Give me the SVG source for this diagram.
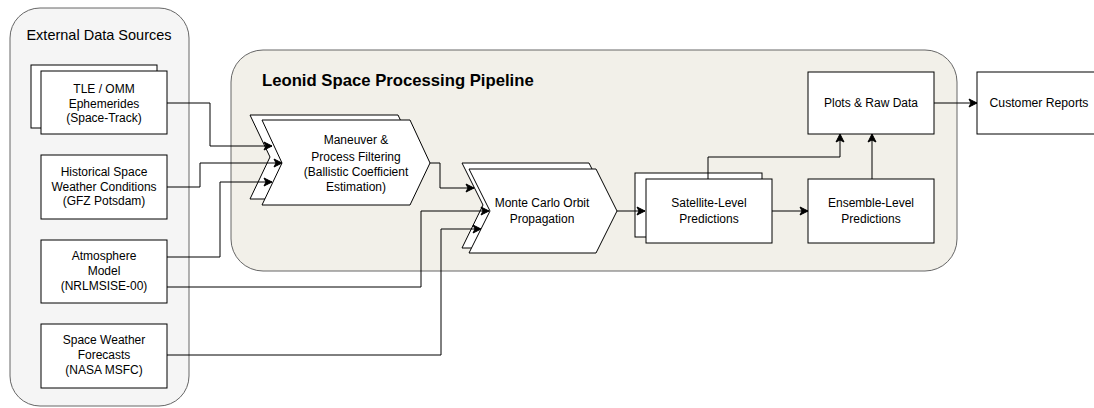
<svg xmlns="http://www.w3.org/2000/svg" width="1094" height="408" viewBox="0 0 1094 408">
<defs>
<style>
.node{fill:#fff;stroke:#000;stroke-width:1}
.t{font-family:"Liberation Sans",Arial,sans-serif;font-size:12px;fill:#000;text-anchor:middle}
.edge{fill:none;stroke:#000;stroke-width:1}
</style>
<marker id="arr" markerUnits="userSpaceOnUse" markerWidth="10" markerHeight="10" viewBox="0 0 10 10" refX="9" refY="5" orient="auto">
<path d="M1,1 L9,5 L1,9 L3,5 Z" fill="#000" stroke="#000" stroke-width="1"/>
</marker>
</defs>
<rect width="1094" height="408" fill="#fff"/>

<g id="external-container">
<rect x="10" y="8" width="179" height="398" rx="30" ry="30" fill="#f5f5f5" stroke="#666" stroke-width="1"/>
<text x="99" y="40" font-family="'Liberation Sans',Arial,sans-serif" font-size="14.5" text-anchor="middle" fill="#000">External Data Sources</text>
</g>

<g id="pipeline-container">
<rect x="231" y="50" width="726" height="221" rx="32" ry="32" fill="#f2f0e9" stroke="#666" stroke-width="1"/>
<text x="262" y="86" font-family="'Liberation Sans',Arial,sans-serif" font-size="16.7" font-weight="bold" fill="#000">Leonid Space Processing Pipeline</text>
</g>

<g id="tle">
<rect class="node" x="31" y="65" width="126" height="63"/>
<rect class="node" x="41" y="71" width="126" height="63"/>
<text class="t" x="104" y="93">TLE / OMM</text>
<text class="t" x="104" y="108">Ephemerides</text>
<text class="t" x="104" y="122">(Space-Track)</text>
</g>

<g id="historical">
<rect class="node" x="41" y="155" width="126" height="64"/>
<text class="t" x="104" y="176">Historical Space</text>
<text class="t" x="104" y="191">Weather Conditions</text>
<text class="t" x="104" y="205">(GFZ Potsdam)</text>
</g>

<g id="atmosphere">
<rect class="node" x="41" y="240" width="126" height="63"/>
<text class="t" x="104" y="260">Atmosphere</text>
<text class="t" x="104" y="275">Model</text>
<text class="t" x="104" y="290">(NRLMSISE-00)</text>
</g>

<g id="forecasts">
<rect class="node" x="41" y="324" width="126" height="64"/>
<text class="t" x="104" y="344">Space Weather</text>
<text class="t" x="104" y="359">Forecasts</text>
<text class="t" x="104" y="374">(NASA MSFC)</text>
</g>

<g id="maneuver">
<path class="node" d="M250,115 L398,115 L418,157 L398,199 L250,199 L270,157 Z"/>
<path class="node" d="M262,120 L410,120 L430,163 L410,205 L262,205 L282,163 Z"/>
<text class="t" x="356" y="144">Maneuver &amp;</text>
<text class="t" x="356" y="161">Process Filtering</text>
<text class="t" x="356" y="176">(Ballistic Coefficient</text>
<text class="t" x="356" y="191">Estimation)</text>
</g>

<g id="montecarlo">
<path class="node" d="M462,163 L589,163 L610,205 L589,248 L462,248 L483,205 Z"/>
<path class="node" d="M469,169 L596,169 L617,211 L596,253 L469,253 L490,211 Z"/>
<text class="t" x="542" y="207">Monte Carlo Orbit</text>
<text class="t" x="542" y="223">Propagation</text>
</g>

<g id="satellite">
<rect class="node" x="635" y="173" width="127" height="64"/>
<rect class="node" x="646" y="179" width="126" height="64"/>
<text class="t" x="709" y="207">Satellite-Level</text>
<text class="t" x="709" y="223">Predictions</text>
</g>

<g id="ensemble">
<rect class="node" x="808" y="179" width="126" height="64"/>
<text class="t" x="871" y="207">Ensemble-Level</text>
<text class="t" x="871" y="223">Predictions</text>
</g>

<g id="plots">
<rect class="node" x="808" y="72" width="126" height="62"/>
<text class="t" x="871" y="107">Plots &amp; Raw Data</text>
</g>

<g id="customer">
<rect class="node" x="977" y="72" width="126" height="62"/>
<text class="t" x="1039" y="107" style="font-size:12.2px">Customer Reports</text>
</g>

<g id="connectors">
<path class="edge" d="M167,103 L210,103 L210,146 L272,146" marker-end="url(#arr)"/>
<path class="edge" d="M167,187 L200,187 L200,163 L282,163" marker-end="url(#arr)"/>
<path class="edge" d="M167,257 L220,257 L220,182 L272,182" marker-end="url(#arr)"/>
<path class="edge" d="M430,163 L440,163 L440,188 L474,188" marker-end="url(#arr)"/>
<path class="edge" d="M167,287 L421,287 L421,211 L489,211" marker-end="url(#arr)"/>
<path class="edge" d="M167,355 L441,355 L441,229 L481,229" marker-end="url(#arr)"/>
<path class="edge" d="M617,211 L645,211" marker-end="url(#arr)"/>
<path class="edge" d="M772,211 L808,211" marker-end="url(#arr)"/>
<path class="edge" d="M708,179 L708,157 L840,157 L840,134" marker-end="url(#arr)"/>
<path class="edge" d="M872,179 L872,134" marker-end="url(#arr)"/>
<path class="edge" d="M934,103 L977,103" marker-end="url(#arr)"/>
</g>
</svg>
